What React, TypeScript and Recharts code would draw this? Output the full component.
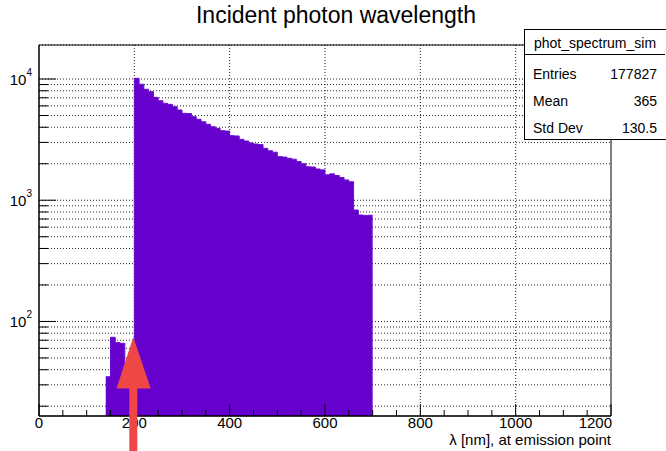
import { AreaChart, Area, XAxis, YAxis, CartesianGrid, ReferenceArea } from 'recharts'

const FONT = '"Liberation Sans", Arial, Helvetica, sans-serif'

// histogram bins (lower edge, nm) and entries
const binLow = [
  140, 150, 160, 170, 180, 190, 200, 210, 220, 230, 240, 250, 260, 270, 280, 290,
  300, 310, 320, 330, 340, 350, 360, 370, 380, 390, 400, 410, 420, 430, 440, 450,
  460, 470, 480, 490, 500, 510, 520, 530, 540, 550, 560, 570, 580, 590, 600, 610,
  620, 630, 640, 650, 660, 670, 680, 690,
]
const counts = [
  35, 74, 67, 66, 45, 40, 10130, 9050, 8220, 7860, 7060, 6620, 6300, 6180, 5910, 5550,
  5210, 5190, 4890, 4650, 4440, 4230, 4040, 3920, 3750, 3720, 3410, 3390, 3180, 3080, 2970, 2910,
  2880, 2680, 2560, 2490, 2290, 2270, 2220, 2180, 2090, 2000, 1890, 1880, 1810, 1780, 1620, 1650,
  1600, 1540, 1470, 1420, 830, 755, 750, 752,
]
const lastEdge = 700

const xTicks = [
  0, 50, 100, 150, 200, 250, 300, 350, 400, 450, 500, 550, 600, 650, 700, 750,
  800, 850, 900, 950, 1000, 1050, 1100, 1150, 1200,
]
const xGrid = [200, 400, 600, 800, 1000]
const yTicks = [
  20, 30, 40, 50, 60, 70, 80, 90, 100,
  200, 300, 400, 500, 600, 700, 800, 900, 1000,
  2000, 3000, 4000, 5000, 6000, 7000, 8000, 9000, 10000,
]
const yDecades = [100, 1000, 10000]
const yExp: Record<number, string> = { 100: '2', 1000: '3', 10000: '4' }
const yDomain = [16.6, 19080]

const statLabels = ['Entries', 'Mean', 'Std Dev']
const statValues = ['177827', '365', '130.5']

const data = binLow
  .map((x, i) => ({ x, n: counts[i] }))
  .concat([{ x: lastEdge, n: counts[counts.length - 1] }])

const XTick = ({ x, y, payload }: any) => {
  const v = payload.value
  const major = v % 200 === 0
  const last = v === 1200
  return (
    <g>
      <line x1={x} x2={x} y1={y} y2={y - (major ? 12 : 6)} stroke="#000" />
      {major && (
        <text
          x={last ? x + 1 : x}
          y={y + 12}
          textAnchor={last ? 'end' : 'middle'}
          fontSize={15}
          fontFamily={FONT}
          fill="#000"
        >
          {v}
        </text>
      )}
    </g>
  )
}

const YTick = ({ x, y, payload }: any) => {
  const v = payload.value
  const major = yDecades.includes(v)
  return (
    <g>
      <line x1={x} x2={x + (major ? 17 : 9)} y1={y} y2={y} stroke="#000" />
      {major && (
        <text x={x - 7} y={y + 5.5} textAnchor="end" fontSize={15} fontFamily={FONT} fill="#000">
          10
          <tspan dy={-8.5} fontSize={10}>
            {yExp[v]}
          </tspan>
        </text>
      )}
    </g>
  )
}

export default function App() {
  return (
    <div style={{ position: 'absolute', left: 0, top: 0, width: 666, height: 451, background: '#fff', fontFamily: FONT }}>
      <div
        style={{
          position: 'absolute', left: 0, top: 2, width: 672, textAlign: 'center',
          fontSize: 23, color: '#000', lineHeight: '26px',
        }}
      >
        Incident photon wavelength
      </div>

      <AreaChart width={666} height={451} data={data} margin={{ top: 45, right: 55, bottom: 0, left: 0 }}>
        <CartesianGrid vertical={false} strokeDasharray="1 2" stroke="#222" />
        <CartesianGrid horizontal={false} verticalValues={xGrid} strokeDasharray="1 2" stroke="#222" />
        <XAxis
          dataKey="x"
          type="number"
          domain={[0, 1200]}
          ticks={xTicks}
          interval={0}
          allowDataOverflow
          tickLine={false}
          tickSize={0}
          tickMargin={0}
          height={35}
          axisLine={{ stroke: '#000' }}
          tick={<XTick />}
        />
        <YAxis
          type="number"
          scale="log"
          domain={yDomain}
          ticks={yTicks}
          interval={0}
          allowDataOverflow
          tickLine={false}
          tickSize={0}
          tickMargin={0}
          width={39}
          axisLine={{ stroke: '#000' }}
          tick={<YTick />}
        />
        <Area
          dataKey="n"
          type="stepAfter"
          fill="#6600cc"
          fillOpacity={1}
          stroke="#6a10d0"
          strokeWidth={1}
          isAnimationActive={false}
        />
        <ReferenceArea x1={0} x2={1200} y1={yDomain[0]} y2={yDomain[1]} fill="none" stroke="#000" ifOverflow="visible" />
      </AreaChart>

      <div
        style={{
          position: 'absolute', left: 447, top: 432, width: 164, textAlign: 'right',
          fontSize: 15, lineHeight: '15px', color: '#000', whiteSpace: 'nowrap',
        }}
      >
        λ [nm], at emission point
      </div>

      <div
        style={{
          position: 'absolute', left: 524, top: 29, width: 150, height: 111,
          border: '1px solid #000', background: '#fff', boxSizing: 'border-box',
          fontSize: 14, color: '#000',
        }}
      >
        <div style={{ position: 'absolute', left: 0, top: 0, width: 140, height: 24, lineHeight: '26px', textAlign: 'center', borderBottom: '1px solid #000' }}>
          phot_spectrum_sim
        </div>
        {statLabels.map((label, i) => (
          <div key={label} style={{ position: 'absolute', left: 8, top: 35 + i * 27.2, width: 124, height: 18, lineHeight: '18px' }}>
            <span style={{ position: 'absolute', left: 0 }}>{label}</span>
            <span style={{ position: 'absolute', right: 0 }}>{statValues[i]}</span>
          </div>
        ))}
      </div>

      <svg width={666} height={451} style={{ position: 'absolute', left: 0, top: 0, pointerEvents: 'none' }}>
        <polygon points="133.3,337 116.5,388.5 150.7,388.5" fill="#ef4646" />
        <rect x={129.3} y={388} width={8} height={63} fill="#ef4646" />
      </svg>
    </div>
  )
}
